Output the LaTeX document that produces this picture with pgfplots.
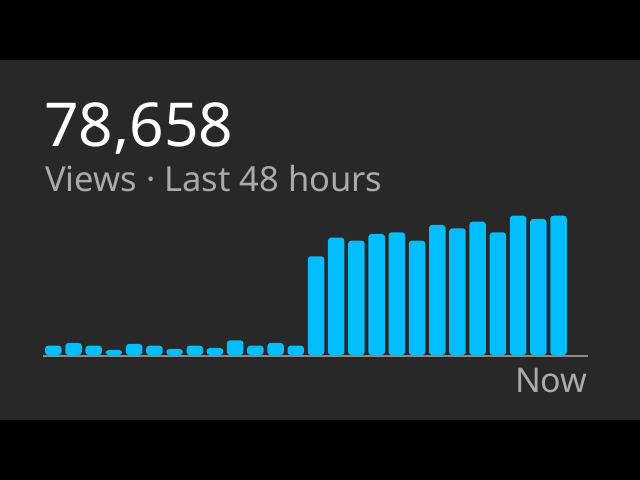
\documentclass[border=0pt]{standalone}
\usepackage{pgfplots}
\usepackage{pgfplotstable}
\pgfplotsset{compat=1.18}
\usepackage{fontspec}
\setmainfont{Noto Sans}
\definecolor{bg}{HTML}{282828}
\definecolor{barc}{HTML}{03BEFE}
\definecolor{txtgray}{HTML}{AAAAAA}
\definecolor{linegray}{HTML}{8A8A8A}
\pgfplotstableread{
x v
1 9.3
2 12
3 9.3
4 5
5 11
6 9.3
7 6
8 9.3
9 7
10 14.7
11 9.3
12 12
13 9.3
14 98.7
15 117.3
16 114.3
17 121
18 122.7
19 114.3
20 130
21 126.7
22 133.3
23 122.7
24 139.3
25 136
26 139.3
}\views
\begin{document}
\begin{tikzpicture}
\fill[black] (0bp,0bp) rectangle (640bp,480bp);
\fill[bg] (0bp,60bp) rectangle (640bp,420bp);
\node[anchor=base west, inner sep=0, text=white, font=\fontsize{60.5bp}{60.5bp}\selectfont\bfseries] at (44bp,333.3bp) {78,658};
\node[anchor=base west, inner sep=0, text=txtgray, font=\fontsize{34.5bp}{34.5bp}\selectfont] at (45bp,288.3bp) {Views · Last 48 hours};
\node[anchor=base east, inner sep=0, text=txtgray, font=\fontsize{34bp}{34bp}\selectfont] at (587.7bp,87.3bp) {Now};
\draw[linegray, line width=2bp] (42.7bp,124bp) -- (587.7bp,124bp);
\begin{axis}[at={(42.7bp,125bp)}, anchor=south west, width=545bp, height=140bp, scale only axis,
  xmin=0.475, xmax=27.445, ymin=6, ymax=146, axis lines=none, ybar, bar width=0.817, clip=true]
\addplot[fill=barc, draw=none, rounded corners=3bp] table[x=x, y expr=\thisrow{v}+6] {\views};
\end{axis}
\end{tikzpicture}
\end{document}
